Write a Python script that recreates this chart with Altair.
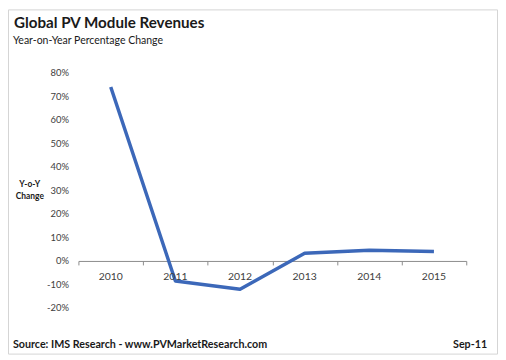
import altair as alt
import pandas as pd

years = [2010, 2011, 2012, 2013, 2014, 2015]
yoy_change = [74.0, -8.5, -12.0, 3.3, 4.6, 4.0]
y_ticks = [-20, -10, 0, 10, 20, 30, 40, 50, 60, 70, 80]

title_text = "Global PV Module Revenues"
subtitle_text = "Year-on-Year Percentage Change"
y_title_lines = ["Y-o-Y", "Change"]
source_text = "Source: IMS Research - www.PVMarketResearch.com"
date_text = "Sep-11"

FONT = "Lato"
W, H = 391, 237
Y_MIN, Y_MAX = -20, 80
zero_offset = -H * (0 - Y_MIN) / (Y_MAX - Y_MIN)

df = pd.DataFrame({"year": years, "yoy": yoy_change})
boundaries = [y - 0.5 for y in years] + [years[-1] + 0.5]

x_scale = alt.Scale(domain=[years[0] - 0.5, years[-1] + 0.5], nice=False, zero=False)
y_scale = alt.Scale(domain=[Y_MIN, Y_MAX], nice=False)

x_axis = alt.Axis(values=boundaries, labels=False, title=None, grid=False,
                  tickSize=4, tickColor="#8c8c8c", domainColor="#8c8c8c",
                  offset=zero_offset)
y_axis = alt.Axis(values=y_ticks, labelExpr="datum.value + '%'", title=None, grid=False,
                  domain=False, ticks=False, labelPadding=10, labelFont=FONT,
                  labelOverlap=False, labelFontSize=9.5, labelColor="#404040")

base = alt.Chart(df)

line = base.mark_line(color="#3C68B9", strokeWidth=3.5, strokeJoin="round").encode(
    x=alt.X("year:Q", scale=x_scale, axis=x_axis),
    y=alt.Y("yoy:Q", scale=y_scale, axis=y_axis),
)

xlabels = base.mark_text(font=FONT, fontSize=10.5, color="#404040", dy=16).encode(
    x=alt.X("year:Q", scale=x_scale, axis=x_axis),
    y=alt.Y("zero:Q", scale=y_scale, axis=y_axis),
    text=alt.Text("year:N"),
).transform_calculate(zero="0")

one = pd.DataFrame({"a": [0]})

def label(text, x, y, size, bold=False, align="left"):
    return alt.Chart(one).mark_text(
        text=text, font=FONT, fontSize=size, fontWeight="bold" if bold else "normal",
        color="#1a1a1a", align=align, baseline="alphabetic"
    ).encode(x=alt.value(x), y=alt.value(y))

border = alt.Chart(one).mark_rect(fill=None, stroke="#d4d4d4", strokeWidth=1).encode(
    x=alt.value(-70.5), x2=alt.value(422.5), y=alt.value(-63.5), y2=alt.value(283.5)
)

texts = [
    label(title_text, -65, -45, 15.3, bold=True),
    label(subtitle_text, -66, -29, 10.6),
    label(y_title_lines[0], -49, 115, 8.5, bold=True, align="center"),
    label(y_title_lines[1], -49, 127, 8.5, bold=True, align="center"),
    label(source_text, -66, 277, 10.8, bold=True),
    label(date_text, 412, 277, 10.8, bold=True, align="right"),
]

chart = alt.layer(border, line, xlabels, *texts).properties(
    width=W, height=H,
    autosize=alt.AutoSizeParams(type="none"),
    padding={"left": 71, "top": 64, "right": 32, "bottom": 47},
).configure(background="white", view=alt.ViewConfig(stroke=None))

chart.save("out.html", embed_options={"renderer": "svg", "actions": False})
